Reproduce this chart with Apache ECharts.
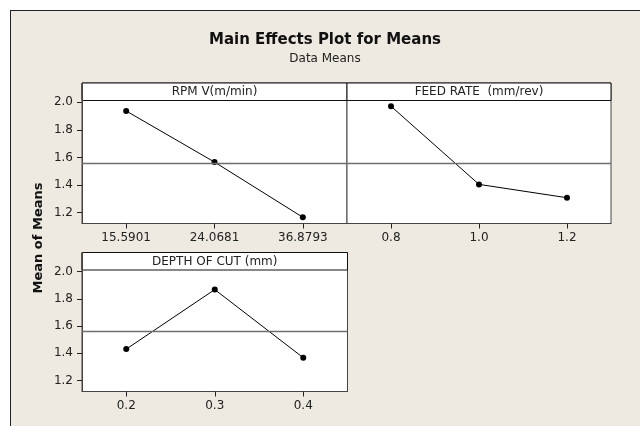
<!DOCTYPE html>
<html><head><meta charset="utf-8">
<script src="https://cdn.jsdelivr.net/npm/echarts@6/dist/echarts.min.js"></script>
<style>
html,body{margin:0;padding:0;background:#fff;overflow:hidden}
#bg{position:absolute;left:10px;top:10px;width:700px;height:500px;background:#EEEAE1;border:1px solid #222}
#c{position:absolute;left:0;top:0;width:640px;height:426px}
</style>
</head><body><div id="bg"></div><div id="c"></div>
<script>
const rpmLevels = ['15.5901', '24.0681', '36.8793'];
const rpmMeans = [1.937, 1.566, 1.165];
const feedLevels = ['0.8', '1.0', '1.2'];
const feedMeans = [1.971, 1.404, 1.307];
const depthLevels = ['0.2', '0.3', '0.4'];
const depthMeans = [1.431, 1.868, 1.368];
const grandMean = 1.556;
const yTicks = [1.2, 1.4, 1.6, 1.8, 2.0];
const panelTitles = ['RPM V(m/min)', 'FEED RATE  (mm/rev)', 'DEPTH OF CUT (mm)'];
const chartTitle = 'Main Effects Plot for Means';
const chartSubtitle = 'Data Means';
const yName = 'Mean of Means';

const FONT = 'DejaVu Sans';
const grids = [
  {left: 82, top: 83, width: 265, height: 140.5},
  {left: 347, top: 83, width: 264, height: 140.5},
  {left: 82, top: 252.5, width: 265.5, height: 139}
];
const STRIP_H = 17.5;
const cats = [rpmLevels, feedLevels, depthLevels];
const vals = [rpmMeans, feedMeans, depthMeans];

const chart = echarts.init(document.getElementById('c'), null, {renderer: 'canvas'});

const option = {
  backgroundColor: 'transparent',
  animation: false,
  title: {
    text: chartTitle,
    subtext: chartSubtitle,
    left: 325,
    top: 33,
    textAlign: 'center',
    padding: 0,
    itemGap: 5,
    textStyle: {fontFamily: FONT, fontWeight: 'bold', fontSize: 15, color: '#111'},
    subtextStyle: {fontFamily: FONT, fontSize: 12, color: '#222'}
  },
  grid: grids.map(g => Object.assign({
    show: true, backgroundColor: '#fff', borderColor: '#444', borderWidth: 1, containLabel: false
  }, g)),
  xAxis: cats.map((c, i) => ({
    type: 'category', gridIndex: i, data: c, boundaryGap: true,
    axisLine: {show: true, lineStyle: {color: '#444', width: 1}},
    axisTick: {show: true, alignWithLabel: true, length: 5, lineStyle: {color: '#222'}},
    axisLabel: {margin: 8, fontFamily: FONT, fontSize: 12, color: '#222'},
    splitLine: {show: false}
  })),
  yAxis: cats.map((c, i) => ({
    type: 'value', gridIndex: i, min: 1.12, max: 2.14,
    axisLine: {show: i !== 1, lineStyle: {color: '#444', width: 1}},
    axisTick: {show: i !== 1, length: 5, customValues: yTicks, lineStyle: {color: '#222'}},
    axisLabel: {show: i !== 1, margin: 9, customValues: yTicks, fontFamily: FONT, fontSize: 12, color: '#222',
      formatter: v => Number(v).toFixed(1)},
    splitLine: {show: false}
  })),
  series: vals.map((v, i) => ({
    type: 'line', xAxisIndex: i, yAxisIndex: i, data: v,
    symbol: 'circle', symbolSize: 6,
    itemStyle: {color: '#000'},
    lineStyle: {color: '#000', width: 1},
    markLine: {
      silent: true, symbol: 'none', label: {show: false},
      lineStyle: {color: '#6e6e6e', width: 1.3, type: 'solid'},
      data: [{yAxis: grandMean}]
    }
  })),
  graphic: [
    ...grids.map((g, i) => ({
      type: 'group', z: 100,
      children: [
        {type: 'rect', shape: {x: g.left, y: g.top, width: g.width, height: STRIP_H},
         style: {fill: '#fff', stroke: '#111', lineWidth: 1}},
        {type: 'text', x: g.left + g.width / 2, y: g.top + STRIP_H / 2 + 0.5,
         style: {text: panelTitles[i], font: '12px "' + FONT + '"', fill: '#222',
                 textAlign: 'center', textVerticalAlign: 'middle'}}
      ]
    })),
    {type: 'text', x: 39, y: 238, rotation: Math.PI / 2, z: 100,
     style: {text: yName, font: 'bold 13px "' + FONT + '"', fill: '#111',
             textAlign: 'center', textVerticalAlign: 'middle'}}
  ]
};
chart.setOption(option);
</script>
</body></html>
